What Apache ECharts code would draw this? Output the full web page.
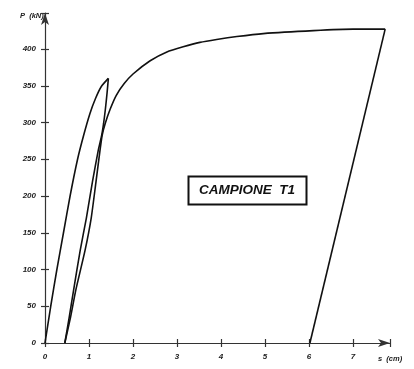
<!DOCTYPE html>
<html>
<head>
<meta charset="utf-8">
<script src="https://cdn.jsdelivr.net/npm/echarts@6/dist/echarts.min.js"></script>
<style>html,body{margin:0;padding:0;background:#fff}#c{width:414px;height:369px}</style>
</head>
<body>
<div id="c"></div>
<script>
// s (cm), P (kN)
const loading1 = [[0,0],[0.13,50],[0.27,100],[0.42,150],[0.57,200],[0.74,250],[0.88,283],[1.02,312],[1.15,333],[1.28,349],[1.44,360]];
const unloading1 = [[1.44,360],[1.41,340],[1.37,317],[1.33,298],[1.29,283],[1.21,262],[1.08,220],[0.94,170],[0.80,126],[0.65,72],[0.55,35],[0.45,0]];
const reloading = [[0.45,0],[0.58,35],[0.70,72],[0.91,126],[1.05,170],[1.16,220],[1.25,262],[1.30,283],[1.37,299],[1.48,318],[1.62,337],[1.80,353],[2.0,366],[2.39,384],[2.77,396],[3.14,403],[3.52,409],[3.90,413],[4.36,417],[4.96,421],[6.10,425],[7.0,427],[7.73,427]];
const unloading2 = [[7.73,427],[6.02,0]];
const xTicks = [0,1,2,3,4,5,6,7];
const yTicks = [0,50,100,150,200,250,300,350,400];

const lineStyle = {color:'#111', width:1.6};
const lab = {fontFamily:'Liberation Sans', fontStyle:'italic', fontWeight:'bold', fontSize:8, color:'#222'};
const chart = echarts.init(document.getElementById('c'));
const xCommon = {type:'value', min:0, max:7.84, interval:1, splitLine:{show:false}};
const yCommon = {type:'value', min:0, max:449, interval:50, splitLine:{show:false}};
chart.setOption({
  backgroundColor:'#fff',
  animation:false,
  grid:{left:45, right:24, top:13, bottom:26},
  xAxis:[
    Object.assign({}, xCommon, {
      axisLine:{show:true, symbol:['none','arrow'], symbolSize:[6,12], lineStyle:{color:'#333', width:1.2}},
      axisTick:{show:true, length:4, lineStyle:{color:'#333', width:1.2}},
      axisLabel:Object.assign({margin:10, formatter:v => xTicks.includes(v) ? String(v) : ''}, lab)
    }),
    Object.assign({}, xCommon, {
      position:'bottom',
      axisLine:{show:false},
      axisTick:{show:true, inside:true, length:4, lineStyle:{color:'#333', width:1.2}},
      axisLabel:{show:false}
    })
  ],
  yAxis:[
    Object.assign({}, yCommon, {
      axisLine:{show:true, symbol:['none','arrow'], symbolSize:[6,12], lineStyle:{color:'#333', width:1.2}},
      axisTick:{show:true, length:4, lineStyle:{color:'#333', width:1.2}},
      axisLabel:Object.assign({margin:9, formatter:v => yTicks.includes(v) ? String(v) : ''}, lab)
    }),
    Object.assign({}, yCommon, {
      position:'left',
      axisLine:{show:false},
      axisTick:{show:true, inside:true, length:4, lineStyle:{color:'#333', width:1.2}},
      axisLabel:{show:false}
    })
  ],
  series:[
    {type:'line', data:loading1, smooth:0.2, showSymbol:false, lineStyle},
    {type:'line', data:unloading1, smooth:0.2, showSymbol:false, lineStyle},
    {type:'line', data:reloading, smooth:0.2, showSymbol:false, lineStyle},
    {type:'line', data:unloading2, smooth:false, showSymbol:false, lineStyle}
  ],
  graphic:[
    {type:'text', left:20, top:12, style:{text:'P  (kN)', font:'italic bold 7.5px Liberation Sans', fill:'#222'}},
    {type:'text', left:378, top:355, style:{text:'s  (cm)', font:'italic bold 7.5px Liberation Sans', fill:'#222'}},
    {type:'rect', shape:{x:188.5, y:176.5, width:118, height:28}, style:{fill:'#fff', stroke:'#111', lineWidth:2}},
    {type:'text', x:247, y:190.5, style:{text:'CAMPIONE  T1', font:'italic bold 13.5px Liberation Sans', fill:'#111', textAlign:'center', textVerticalAlign:'middle'}}
  ]
});
</script>
</body>
</html>
